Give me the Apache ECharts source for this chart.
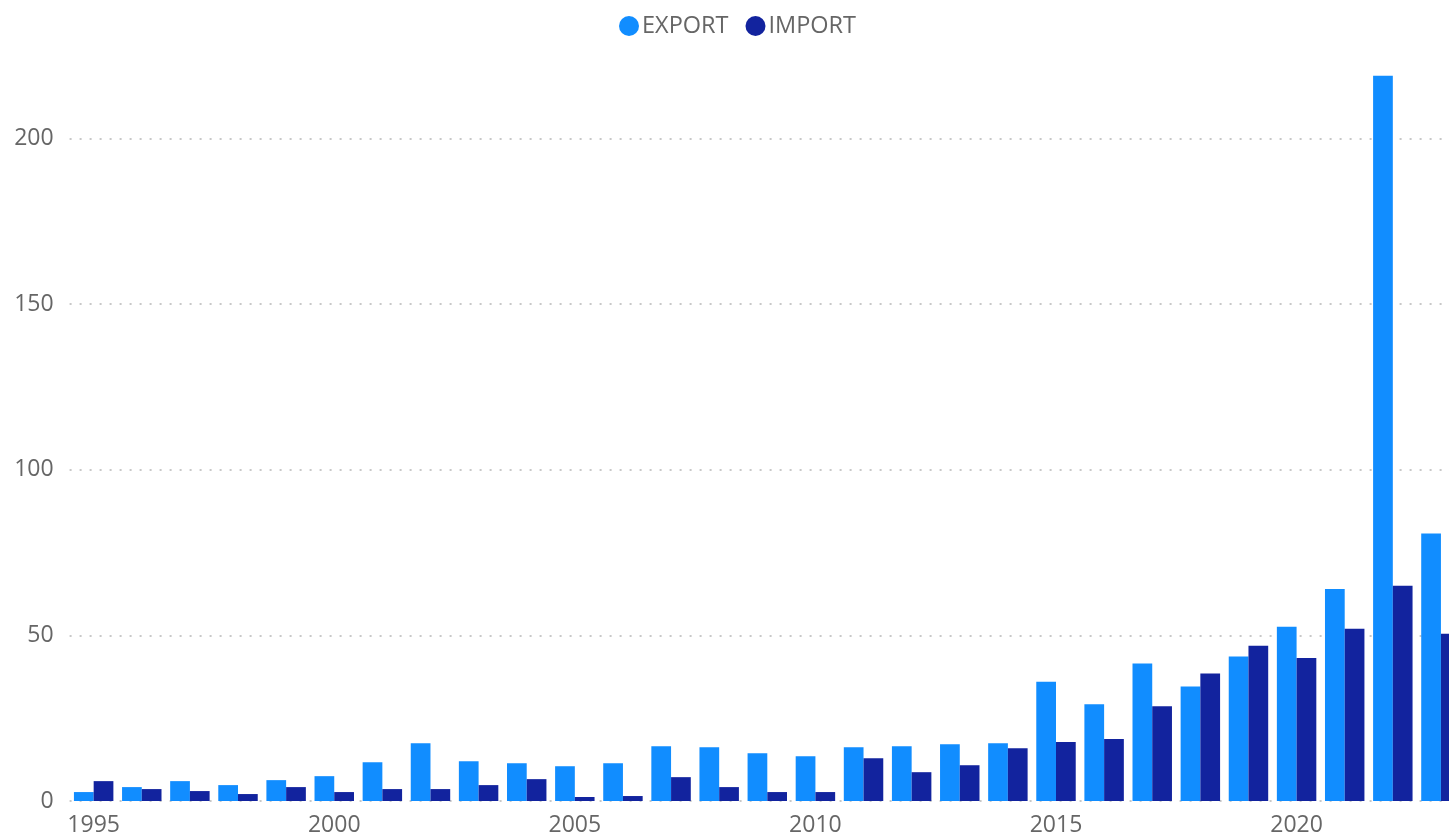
<!DOCTYPE html>
<html>
<head>
<meta charset="utf-8">
<script src="https://cdn.jsdelivr.net/npm/echarts@6/dist/echarts.min.js"></script>
<style>
html,body{margin:0;padding:0;background:#fff;overflow:hidden;}
#chart{width:1465px;height:837px;}
</style>
</head>
<body>
<div id="chart"></div>
<script>
const years = ['1995','1996','1997','1998','1999','2000','2001','2002','2003','2004','2005','2006','2007','2008','2009','2010','2011','2012','2013','2014','2015','2016','2017','2018','2019','2020','2021','2022','2023'];
const exportValues = [2.7,4.2,6.0,4.8,6.3,7.5,11.7,17.4,12.0,11.4,10.5,11.4,16.5,16.2,14.4,13.5,16.2,16.5,17.1,17.4,36.0,29.2,41.5,34.6,43.6,52.6,64.0,219.0,80.8];
const importValues = [6.0,3.6,3.0,2.1,4.2,2.7,3.6,3.6,4.8,6.6,1.2,1.5,7.2,4.2,2.7,2.7,12.9,8.7,10.8,15.9,17.8,18.7,28.6,38.5,46.9,43.2,52.0,65.0,50.5];
const seriesNames = ['EXPORT','IMPORT'];
const yTicks = {min:0, max:220, interval:50};

const font = "'Segoe UI','Open Sans','Noto Sans',sans-serif";
const chart = echarts.init(document.getElementById('chart'));
chart.setOption({
  animation:false,
  textStyle:{fontFamily:font},
  legend:{
    data:seriesNames,
    left:614, top:9,
    icon:'circle',
    itemWidth:20, itemHeight:20, itemGap:17,
    textStyle:{fontSize:23.5, color:'#666666', fontFamily:font, padding:[0,0,0,-2]}
  },
  grid:{left:69.6, right:0, top:72.4, bottom:33, containLabel:false},
  xAxis:{
    type:'category',
    data:years,
    axisLine:{show:false},
    axisTick:{show:false},
    axisLabel:{interval:4, fontSize:23, color:'#666666', margin:13, fontFamily:font}
  },
  yAxis:{
    type:'value',
    min:yTicks.min, max:yTicks.max, interval:yTicks.interval,
    axisLine:{show:false},
    axisTick:{show:false},
    axisLabel:{fontSize:23, color:'#666666', margin:16, showMaxLabel:false, fontFamily:font},
    splitLine:{show:true, showMaxLine:false, lineStyle:{color:'#c8c8c8', width:2, type:[2,8]}}
  },
  series:[
    {name:seriesNames[0], type:'bar', data:exportValues, itemStyle:{color:'#118DFF'}, barGap:'0%', barCategoryGap:'18%'},
    {name:seriesNames[1], type:'bar', data:importValues, itemStyle:{color:'#12239E'}, barGap:'0%', barCategoryGap:'18%'}
  ]
});
</script>
</body>
</html>
